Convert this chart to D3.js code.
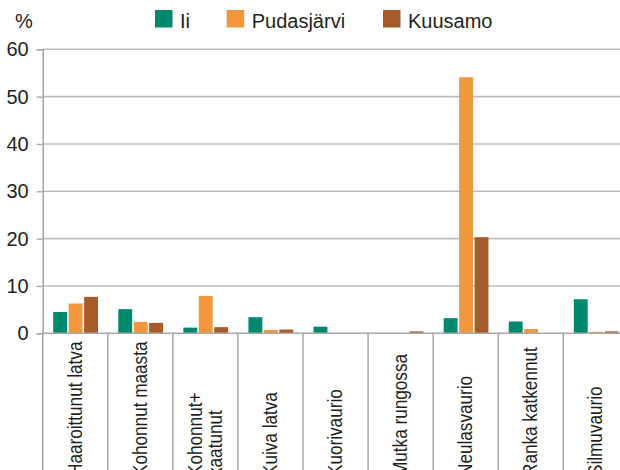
<!DOCTYPE html>
<html>
<head>
<meta charset="utf-8">
<script src="https://cdn.jsdelivr.net/npm/d3@7"></script>
<style>
  html, body { margin: 0; padding: 0; background: #fff; }
  svg { display: block; font-family: "Liberation Sans", Arial, Helvetica, sans-serif; }
</style>
</head>
<body>
<svg id="chart" width="620" height="470"></svg>
<script>
// Tree damage types (share of trees, %) by municipality
const categories = [
  ["Haaroittunut latva"],
  ["Kohonnut maasta"],
  ["Kohonnut+", "kaatunut"],
  ["Kuiva latva"],
  ["Kuorivaurio"],
  ["Mutka rungossa"],
  ["Neulasvaurio"],
  ["Ranka katkennut"],
  ["Silmuvaurio"]
];
const seriesNames = ["Ii", "Pudasjärvi", "Kuusamo"];
const iiValues         = [4.5, 5.1, 1.2, 3.4, 1.4, 0.0, 3.2, 2.5, 7.2];
const pudasjarviValues = [6.3, 2.4, 7.9, 0.7, 0.0, 0.0, 54.1, 0.9, 0.3];
const kuusamoValues    = [7.7, 2.2, 1.3, 0.8, 0.0, 0.4, 20.3, 0.0, 0.4];
const yTicks = [0, 10, 20, 30, 40, 50, 60];
const seriesColors = ["#00896c", "#f3973f", "#a75b2b"];

const seriesValues = [iiValues, pudasjarviValues, kuusamoValues];
const catKeys = categories.map(c => c.join(" "));

const svg = d3.select("#chart");
const W = 620, H = 470;
const plot = { left: 42.7, right: 628.4, top: 49.3, bottom: 333.3 };

const x = d3.scaleBand().domain(catKeys).range([plot.left, plot.right]).paddingInner(0).paddingOuter(0);
const xs = d3.scaleBand().domain(seriesNames)
  .range([10.5, 55.3]).paddingInner(0.1).paddingOuter(0);
const y = d3.scaleLinear().domain([0, 60]).range([plot.bottom, plot.top]);

// horizontal gridlines
svg.append("g").selectAll("line")
  .data(yTicks.filter(t => t > 0))
  .join("line")
  .attr("x1", plot.left).attr("x2", W)
  .attr("y1", d => y(d)).attr("y2", d => y(d))
  .attr("stroke", "#bdbdbd").attr("stroke-width", 1.6);

// y axis
const yAxis = d3.axisLeft(y).tickValues(yTicks).tickSize(6).tickPadding(8);
const gy = svg.append("g").attr("transform", `translate(${plot.left},0)`).call(yAxis);
gy.select(".domain").attr("stroke", "#a8a8a8").attr("stroke-width", 1.6);
gy.selectAll(".tick line").attr("stroke", "#a8a8a8").attr("stroke-width", 1.4);
gy.selectAll(".tick text")
  .attr("font-size", 20).attr("fill", "#231f20")
  .attr("font-family", "Liberation Sans, Arial, sans-serif");

// bars
const groups = svg.append("g").selectAll("g")
  .data(catKeys)
  .join("g")
  .attr("transform", d => `translate(${x(d)},0)`);

groups.selectAll("rect")
  .data((d, i) => seriesNames.map((s, j) => ({ s, j, v: seriesValues[j][i] })))
  .join("rect")
  .attr("x", d => xs(d.s))
  .attr("width", xs.bandwidth())
  .attr("y", d => y(d.v))
  .attr("height", d => y(0) - y(d.v))
  .attr("fill", d => seriesColors[d.j]);

// category axis: baseline and long separators between categories
svg.append("line")
  .attr("x1", plot.left).attr("x2", W)
  .attr("y1", y(0)).attr("y2", y(0))
  .attr("stroke", "#a8a8a8").attr("stroke-width", 1.6);

const bounds = catKeys.map(k => x(k)).concat([plot.right]);
svg.append("g").selectAll("line")
  .data(bounds)
  .join("line")
  .attr("x1", d => d).attr("x2", d => d)
  .attr("y1", y(0)).attr("y2", H)
  .attr("stroke", "#a0a0a0").attr("stroke-width", 1.4);

// rotated category labels, read bottom to top, set in a narrow cut
const labelStart = 476;
const lineGap = 19.5;
svg.append("g").selectAll("text")
  .data(categories)
  .join("text")
  .attr("transform", (d, i) => {
    const cx = x(catKeys[i]) + x.bandwidth() / 2;
    const bx = cx + 6.5 - (d.length - 1) * lineGap / 2;
    return `translate(${bx},${labelStart}) rotate(-90) scale(0.88,1)`;
  })
  .attr("font-size", 19.5)
  .attr("fill", "#231f20")
  .attr("text-anchor", "start")
  .selectAll("tspan")
  .data(d => d)
  .join("tspan")
  .attr("x", 0)
  .attr("y", (d, i) => i * lineGap)
  .text(d => d);

// unit label
svg.append("text")
  .attr("x", 15).attr("y", 27.5)
  .attr("font-size", 20).attr("fill", "#231f20")
  .text("%");

// legend
const legendX = [155, 226.7, 383];
const legend = svg.append("g").selectAll("g")
  .data(seriesNames)
  .join("g")
  .attr("transform", (d, i) => `translate(${legendX[i]},10)`);
legend.append("rect")
  .attr("width", 17.5).attr("height", 17.5)
  .attr("fill", (d, i) => seriesColors[i]);
legend.append("text")
  .attr("x", 25).attr("y", 18)
  .attr("font-size", 20).attr("fill", "#231f20")
  .text(d => d);
</script>
</body>
</html>
